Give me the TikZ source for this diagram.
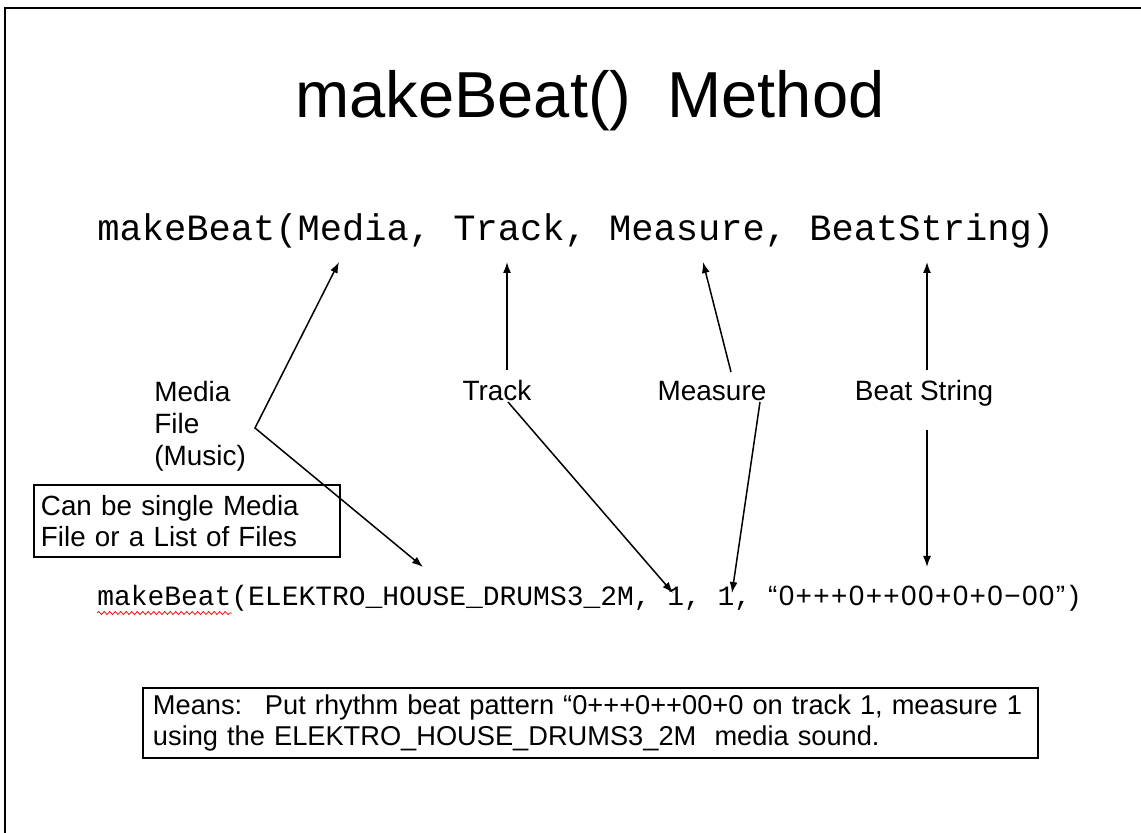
\documentclass[tikz,border=0pt]{standalone}
\usepackage{fontspec}
\setmainfont{Liberation Sans}
\setmonofont{Liberation Mono}
\newfontfamily\beatfont[LetterSpace=5]{Liberation Sans}
\usetikzlibrary{arrows.meta,decorations.pathmorphing}
\tikzset{
	lbl/.style={inner sep=0pt, anchor=base, font=\fontsize{15.9}{18.2}\selectfont},
	pointer/.style={line width=0.3mm, ->},
	notebox/.style={draw, line width=0.25mm, align=left, font=\fontsize{15.8}{17.8}\selectfont},
}
\begin{document}
\begin{tikzpicture}[x=0.2mm, y=-0.2mm, >={Latex[length=2.2mm,width=1.6mm]}]
		\useasboundingbox (0,0) rectangle (1141,833);
		%slide frame
		\draw[line width=0.4mm] (5,833) -- (5,8) -- (1141,8);
		%title
		\node[inner sep=0pt, anchor=base, font=\fontsize{37}{44}\selectfont] (title) at (590,118) {makeBeat()~ Method};
		%signature
		\node[inner sep=0pt, anchor=base west, font=\ttfamily\fontsize{21.1}{25}\selectfont] (sig) at (97,241) {makeBeat(Media, Track, Measure, BeatString)};
		%labels
		\node[lbl, anchor=north west, align=left, font=\fontsize{15.9}{18.2}\selectfont] (media) at (154,381) {Media\\File\\(Music)};
		\node[lbl] (track) at (497,401) {Track};
		\node[lbl] (measure) at (712,401) {Measure};
		\node[lbl] (beatstr) at (924,401) {Beat String};
		%note boxes
		\node[notebox, minimum width=61.2mm, minimum height=14.4mm, text width=58.4mm, inner xsep=1.4mm] (single) at (187,521) {Can be single Media\\File or a List of Files};
		\node[notebox, font=\fontsize{15.5}{17.6}\selectfont, minimum width=179mm, minimum height=14mm, text width=175mm, inner xsep=2mm] (means) at (590.5,723) {Means:~ Put rhythm beat pattern “0+++0++00+0 on track 1, measure 1\\using the ELEKTRO\_HOUSE\_DRUMS3\_2M~ media sound.};
		%call
		\node[inner sep=0pt, anchor=base west, font=\ttfamily\fontsize{15.9}{19}\selectfont] (call) at (97,606) {makeBeat(ELEKTRO\_HOUSE\_DRUMS3\_2M, 1, 1, {\beatfont “0+++0++00+0+0−00”})};
		\draw[red, line width=0.15mm, decorate, decoration={snake, amplitude=0.3mm, segment length=1.1mm}] (97,613) -- (232,613);
		%arrow ends
		\coordinate (mediaArg) at (339,262);
		\coordinate (mediaBend) at (255,428);
		\coordinate (mediaVal) at (423,567);
		\coordinate (trackUp) at (507,370);
		\coordinate (trackArg) at (507,262);
		\coordinate (trackFrom) at (508,402);
		\coordinate (trackVal) at (673,593);
		\coordinate (measureUp) at (731,372);
		\coordinate (measureArg) at (703,262);
		\coordinate (measureFrom) at (760,402);
		\coordinate (measureVal) at (732,593);
		\coordinate (beatUp) at (927,370);
		\coordinate (beatArg) at (927,262);
		\coordinate (beatDown) at (927,430);
		\coordinate (beatVal) at (927,567);
		%arrows
		\draw[pointer, <->] (mediaArg) -- (mediaBend) -- (mediaVal);
		\draw[pointer] (trackUp) -- (trackArg);
		\draw[pointer] (trackFrom) -- (trackVal);
		\draw[pointer] (measureUp) -- (measureArg);
		\draw[pointer] (measureFrom) -- (measureVal);
		\draw[pointer] (beatUp) -- (beatArg);
		\draw[pointer] (beatDown) -- (beatVal);
	\end{tikzpicture}
\end{document}
